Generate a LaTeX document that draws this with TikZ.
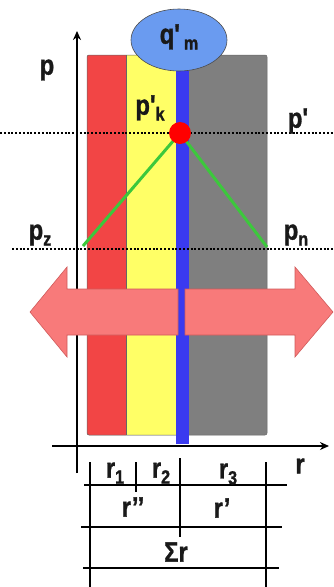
\documentclass[tikz,border=0pt]{standalone}
\usepackage{fontspec}
\setmainfont{Liberation Sans}
\newfontfamily\hvy[FakeBold=1.3]{Liberation Sans Bold}
\usetikzlibrary{arrows.meta,shapes.geometric}
\definecolor{cred}{HTML}{F24545}
\definecolor{cyel}{HTML}{FFFF66}
\definecolor{cgray}{HTML}{7F7F7F}
\definecolor{cblue}{HTML}{3A3AF0}
\definecolor{cell}{HTML}{6A9BF0}
\definecolor{cgreen}{HTML}{3CC83C}
\definecolor{carrow}{HTML}{F87A7A}
\definecolor{carrowd}{HTML}{D05A5A}
\newcommand\lsub[1]{\raisebox{-0.4ex}{\fontsize{19}{19}\selectfont #1}}
\newcommand\lt[1]{\scalebox{0.85}[1]{#1}}
\tikzset{
  lbl/.style={font=\fontsize{28}{28}\selectfont\hvy, inner sep=0pt, text=black!90},
  dotline/.style={line width=2pt, dash pattern=on 2pt off 1.8pt},
  axisline/.style={line width=1.6pt, -{Stealth[length=9pt,width=8pt]}},
  dimline/.style={line width=1.4pt},
  bigarrow/.style={fill=carrow, draw=carrowd, line width=0.6pt},
}
\begin{document}
\begin{tikzpicture}[x=1pt,y=-1pt]
\useasboundingbox (0,0) rectangle (334,587);
% layers
\fill[cgray, rounded corners=2pt] (87,55) rectangle (267,435);
\fill[cyel] (126,55) rectangle (189,435);
\fill[cred, rounded corners=2pt] (87,55) rectangle (128,435);
\fill[cyel] (126,55) rectangle (130,435);
\draw[black!60, line width=0.5pt, rounded corners=2pt] (87,55) rectangle (267,435);
\draw[black!60, line width=0.5pt] (126,55) -- (126,435);
\fill[cblue] (176,60) rectangle (189,444);
% ellipse
\node[ellipse, draw=black!70, fill=cell, minimum width=96pt, minimum height=62pt, line width=0.6pt] (qm) at (179,40) {};
\node[lbl] (qmt) at (179,37) {\lt{q'\,\lsub{m}}};
% dotted lines
\coordinate (pl1) at (0,133); \coordinate (pr1) at (334,133);
\coordinate (pl2) at (12,249); \coordinate (pr2) at (334,249);
\draw[dotline] (pl1) -- (pr1);
\draw[dotline] (pl2) -- (pr2);
% green lines
\coordinate (dotc) at (180,133);
\coordinate (gz) at (83,246);
\coordinate (gn) at (267,247);
\draw[cgreen, line width=3pt] (gz) -- (dotc) -- (gn);
\fill[red] (dotc) circle (11pt);
% labels
\node[lbl] (plab) at (47,70) {\lt{p}};
\node[lbl] (pk) at (150,108) {\lt{p'\lsub{k}}};
\node[lbl] (pp) at (298,121) {\lt{p'}};
\node[lbl] (pz) at (40,235) {\lt{p\lsub{z}}};
\node[lbl] (pn) at (296,235) {\lt{p\lsub{n}}};
% axes
\coordinate (ya0) at (77,473); \coordinate (ya1) at (77,31);
\coordinate (xa0) at (52,446); \coordinate (xa1) at (329,446);
\draw[axisline] (ya0) -- (ya1);
\draw[axisline] (xa0) -- (xa1);
% big arrows
\draw[bigarrow] (178,289) -- (67,289) -- (67,267) -- (30,312) -- (67,357) -- (67,335) -- (178,335) -- cycle;
\draw[bigarrow] (185,289) -- (295,289) -- (295,267) -- (333,312) -- (295,357) -- (295,335) -- (185,335) -- cycle;
% dimension table
\coordinate (v1a) at (90,462); \coordinate (v1b) at (90,587);
\coordinate (v2a) at (136,462); \coordinate (v2b) at (136,492);
\coordinate (v3a) at (180,458); \coordinate (v3b) at (180,537);
\coordinate (v4a) at (266,462); \coordinate (v4b) at (266,587);
\draw[dimline] (v1a) -- (v1b);
\draw[dimline] (v2a) -- (v2b);
\draw[dimline] (v3a) -- (v3b);
\draw[dimline] (v4a) -- (v4b);
\coordinate (h1a) at (84,485); \coordinate (h1b) at (287,485);
\coordinate (h2a) at (81,527); \coordinate (h2b) at (282,527);
\coordinate (h3a) at (83,568); \coordinate (h3b) at (279,568);
\draw[dimline] (h1a) -- (h1b);
\draw[dimline] (h2a) -- (h2b);
\draw[dimline] (h3a) -- (h3b);
\node[lbl] (r1) at (115,473) {\lt{r\lsub{1}}};
\node[lbl] (r2) at (161,473) {\lt{r\lsub{2}}};
\node[lbl] (r3) at (228,474) {\lt{r\lsub{3}}};
\node[lbl] (r) at (300,466) {\lt{r}};
\node[lbl] (rpp) at (133,507) {\lt{r’’}};
\node[lbl] (rp) at (222,508) {\lt{r’}};
\node[lbl] (sr) at (176,552) {\lt{Σr}};
\end{tikzpicture}
\end{document}
